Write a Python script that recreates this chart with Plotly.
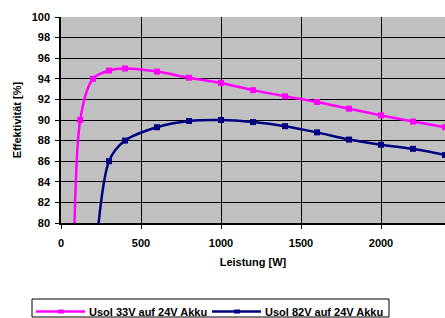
import plotly.graph_objects as go

# Data
name_33 = "Usol 33V auf 24V Akku"
power_33 = [70, 120, 200, 300, 400, 600, 800, 1000, 1200, 1400, 1600, 1800, 2000, 2200, 2400]
eff_33 = [50, 90, 94, 94.8, 95, 94.7, 94.1, 93.6, 92.9, 92.3, 91.75, 91.1, 90.45, 89.85, 89.3]

name_82 = "Usol 82V auf 24V Akku"
power_82 = [200, 300, 400, 600, 800, 1000, 1200, 1400, 1600, 1800, 2000, 2200, 2400]
eff_82 = [74, 86, 88, 89.3, 89.9, 90.0, 89.8, 89.4, 88.8, 88.1, 87.6, 87.2, 86.6]

x_ticks = [0, 500, 1000, 1500, 2000]
y_ticks = [80, 82, 84, 86, 88, 90, 92, 94, 96, 98, 100]

col_33 = "#FF00FF"
col_82 = "#000080"
FONT = "Arial, Liberation Sans, sans-serif"

fig = go.Figure()
fig.add_trace(go.Scatter(x=power_33, y=eff_33, name=name_33, mode="lines+markers",
                         line=dict(color=col_33, width=2.5, shape="spline", smoothing=0.8),
                         marker=dict(symbol="square", size=6, color=col_33)))
fig.add_trace(go.Scatter(x=power_82, y=eff_82, name=name_82, mode="lines+markers",
                         line=dict(color=col_82, width=2.5, shape="spline", smoothing=0.8),
                         marker=dict(symbol="square", size=6, color=col_82)))

W, H = 445, 318
L, T = 61, 17
B = H - 223
pw = W - L
ph = H - T - B

def px_x(p):
    return (p - L) / pw

def px_y(p):
    return (H - B - p) / ph

shapes = []
annotations = []
# manual legend
shapes.append(dict(type="rect", xref="paper", yref="paper",
                   x0=px_x(32), x1=px_x(389), y0=px_y(299), y1=px_y(317),
                   line=dict(color="black", width=1), fillcolor="white", layer="above"))
ly = px_y(311.5)
for (xa, xb, xm, xt, col, nm) in [(36, 85, 61, 87, col_33, name_33), (212, 261, 237, 263, col_82, name_82)]:
    shapes.append(dict(type="line", xref="paper", yref="paper",
                       x0=px_x(xa), x1=px_x(xb), y0=ly, y1=ly,
                       line=dict(color=col, width=2.5), layer="above"))
    shapes.append(dict(type="rect", xref="paper", yref="paper",
                       xsizemode="pixel", ysizemode="pixel",
                       xanchor=px_x(xm), yanchor=ly, x0=-3, x1=3, y0=-2, y1=2,
                       line=dict(color=col, width=0), fillcolor=col, layer="above"))
    annotations.append(dict(xref="paper", yref="paper", x=px_x(xt), y=ly,
                            xanchor="left", yanchor="middle", showarrow=False,
                            text="<b>" + nm + "</b>",
                            font=dict(family=FONT, size=11, color="black")))

fig.update_layout(
    width=W, height=H,
    margin=dict(l=L, r=0, t=T, b=B, pad=0),
    paper_bgcolor="white", plot_bgcolor="#C0C0C0",
    showlegend=False,
    font=dict(family=FONT, size=11, color="black"),
    shapes=shapes, annotations=annotations,
    xaxis=dict(range=[0, 2400], tickvals=x_ticks, ticktext=["<b>%d</b>" % v for v in x_ticks],
               showgrid=True, gridcolor="black", gridwidth=1, zeroline=False,
               showline=True, linecolor="black", linewidth=1.5,
               ticks="outside", ticklen=4, tickcolor="black", ticklabelstandoff=5,
               title=dict(text="<b>Leistung [W]</b>", font=dict(size=11), standoff=10)),
    yaxis=dict(range=[80, 100], tickvals=y_ticks, ticktext=["<b>%d</b>" % v for v in y_ticks],
               showgrid=True, gridcolor="black", gridwidth=1, zeroline=False,
               showline=True, linecolor="black", linewidth=1.5,
               ticks="outside", ticklen=4, tickcolor="black", ticklabelstandoff=3,
               title=dict(text="<b>Effektivität [%]</b>", font=dict(size=11), standoff=8)),
)

fig.write_html("out.html", config={"displayModeBar": False},
               post_script="document.body.style.margin='0';document.body.style.overflow='hidden';")
